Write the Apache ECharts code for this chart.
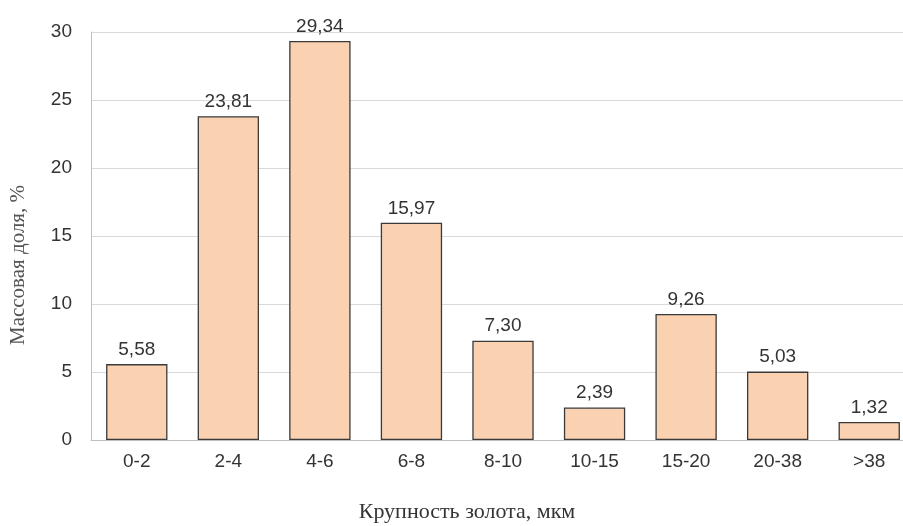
<!DOCTYPE html>
<html>
<head>
<meta charset="utf-8">
<script src="https://cdn.jsdelivr.net/npm/echarts@6/dist/echarts.min.js"></script>
<style>
  html, body { margin: 0; padding: 0; background: #fff; overflow: hidden; }
  #chart { width: 915px; height: 526px; }
</style>
</head>
<body>
<div id="chart"></div>
<script>
// Size classes of gold particles, µm
const categories = ['0-2', '2-4', '4-6', '6-8', '8-10', '10-15', '15-20', '20-38', '>38'];
// Mass fraction per size class, %
const massShare = [5.58, 23.81, 29.34, 15.97, 7.30, 2.39, 9.26, 5.03, 1.32];
// Y axis ticks
const yTicks = [0, 5, 10, 15, 20, 25, 30];

const chart = echarts.init(document.getElementById('chart'), null, { renderer: 'canvas' });

const sans = '"Liberation Sans", Arial, sans-serif';
const serif = '"Liberation Serif", "Times New Roman", serif';

chart.setOption({
  animation: false,
  backgroundColor: '#ffffff',
  // the plot runs slightly past the right edge of the visible page
  grid: { left: 91, right: 0, top: 32, bottom: 86, containLabel: false },
  xAxis: {
    type: 'category',
    data: categories,
    axisLine: { show: true, lineStyle: { color: '#bfbfbf', width: 1 } },
    axisTick: { show: false },
    axisLabel: { color: '#333', fontFamily: sans, fontSize: 19, margin: 12 }
  },
  yAxis: {
    type: 'value',
    min: yTicks[0],
    max: yTicks[yTicks.length - 1],
    interval: 5,
    axisLine: { show: true, lineStyle: { color: '#bfbfbf', width: 1 } },
    axisTick: { show: false },
    splitLine: { lineStyle: { color: '#d9d9d9', width: 1 } },
    axisLabel: { color: '#333', fontFamily: sans, fontSize: 19, margin: 19 }
  },
  series: [{
    type: 'bar',
    data: massShare,
    barCategoryGap: '33%',
    itemStyle: { color: '#fad2b2', borderColor: '#3a3a3a', borderWidth: 1.3 },
    label: {
      show: true,
      position: 'top',
      distance: 5,
      color: '#333',
      fontFamily: sans,
      fontSize: 19,
      formatter: p => p.value.toFixed(2).replace('.', ',')
    }
  }],
  graphic: [
    {
      type: 'text',
      x: 18, y: 265,
      rotation: Math.PI / 2,
      style: {
        text: 'Массовая доля, %',
        font: '21px ' + serif,
        fill: '#555',
        align: 'center',
        verticalAlign: 'middle'
      }
    },
    {
      type: 'text',
      x: 467, y: 512,
      style: {
        text: 'Крупность золота, мкм',
        font: '22px ' + serif,
        fill: '#333',
        align: 'center',
        verticalAlign: 'middle'
      }
    }
  ]
});
</script>
</body>
</html>
